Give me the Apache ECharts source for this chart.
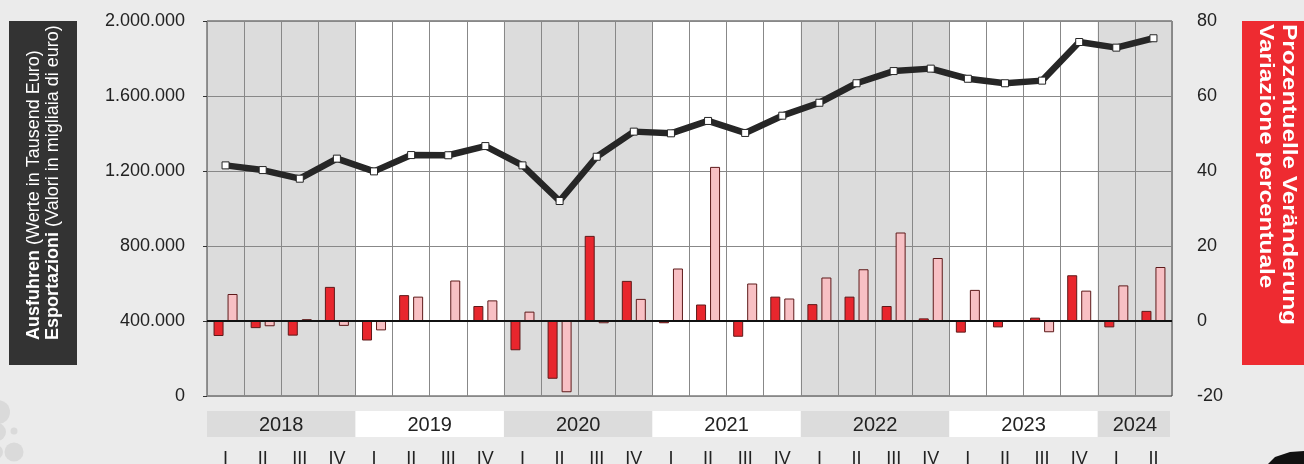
<!DOCTYPE html>
<html>
<head>
<meta charset="utf-8">
<script src="https://cdn.jsdelivr.net/npm/echarts@6/dist/echarts.min.js"></script>
<style>
  html, body { margin: 0; padding: 0; background: #ebebeb; }
  #chart { width: 1304px; height: 464px; }
</style>
</head>
<body>
<div id="chart"></div>
<script>
// quarters shown on the x axis
var quarters = [
  '2018 I', '2018 II', '2018 III', '2018 IV',
  '2019 I', '2019 II', '2019 III', '2019 IV',
  '2020 I', '2020 II', '2020 III', '2020 IV',
  '2021 I', '2021 II', '2021 III', '2021 IV',
  '2022 I', '2022 II', '2022 III', '2022 IV',
  '2023 I', '2023 II', '2023 III', '2023 IV',
  '2024 I', '2024 II'
];
var years = ['2018', '2019', '2020', '2021', '2022', '2023', '2024'];
var quartersPerYear = [4, 4, 4, 4, 4, 4, 2];

// exports, thousand euro
var exportsValues = [
  1230000, 1205000, 1159000, 1266000,
  1198000, 1285000, 1284000, 1333000,
  1230000, 1040000, 1276000, 1410000,
  1401000, 1467000, 1403000, 1495000,
  1564000, 1668000, 1733000, 1746000,
  1692000, 1668000, 1682000, 1888000,
  1858000, 1908000
];
// % change on previous quarter (red)
var changePrevQuarter = [
  -4.0, -1.9, -3.9, 9.1,
  -5.2, 6.9, 0, 4.0,
  -7.8, -15.4, 22.7, 10.7,
  -0.6, 4.4, -4.2, 6.5,
  4.5, 6.5, 4.0, 0.7,
  -3.1, -1.7, 0.9, 12.2,
  -1.7, 2.7
];
// % change on same quarter of previous year (pink)
var changePrevYear = [
  7.2, -1.4, 0.5, -1.3,
  -2.5, 6.5, 10.8, 5.5,
  2.5, -19.0, -0.6, 5.9,
  14.0, 41.1, 10.0, 6.0,
  11.6, 13.8, 23.6, 16.8,
  8.3, 0, -3.0, 8.1,
  9.5, 14.4
];

var FONT = 'Liberation Sans, Arial, sans-serif';

var yearBands = [];
var start = 0;
for (var i = 0; i < years.length; i++) {
  yearBands.push([start, start + quartersPerYear[i]]);
  start += quartersPerYear[i];
}

function thousands(v) {
  return String(v).replace(/\B(?=(\d{3})+(?!\d))/g, '.');
}

function bandColor(idx) {
  return idx % 2 ? '#ffffff' : '#dcdcdc';
}

var chart = echarts.init(document.getElementById('chart'));

var option = {
  backgroundColor: '#ebebeb',
  animation: false,
  grid: [
    { left: 207, right: 132, top: 21, bottom: 68, show: true, outerBoundsMode: 'none',
      borderColor: '#3a3a3a', borderWidth: 1, backgroundColor: 'transparent' },
    { left: 207, right: 132, top: 411, height: 26, outerBoundsMode: 'none' }
  ],
  xAxis: [
    {
      type: 'category',
      gridIndex: 0,
      data: quarters,
      boundaryGap: true,
      axisLine: { show: false },
      axisTick: { show: false },
      axisLabel: {
        interval: 0,
        margin: 54,
        fontSize: 18,
        fontFamily: FONT,
        color: '#222',
        formatter: function (v) { return v.split(' ')[1]; }
      },
      splitLine: { show: true, interval: 0, lineStyle: { color: '#888888', width: 1 } }
    },
    {
      type: 'value',
      gridIndex: 1,
      min: 0,
      max: quarters.length,
      show: false
    },
    {
      type: 'value',
      gridIndex: 0,
      min: 0,
      max: quarters.length,
      show: false
    }
  ],
  yAxis: [
    {
      type: 'value',
      gridIndex: 0,
      min: 0,
      max: 2000000,
      interval: 400000,
      axisLine: { show: false },
      axisTick: { show: true, length: 4, lineStyle: { color: '#333' } },
      axisLabel: {
        margin: 22,
        fontSize: 18,
        fontFamily: FONT,
        color: '#222',
        formatter: thousands
      },
      splitLine: { show: true, lineStyle: { color: '#888888', width: 1 } }
    },
    {
      type: 'value',
      gridIndex: 0,
      min: -20,
      max: 80,
      interval: 20,
      position: 'right',
      axisLine: { show: false },
      axisTick: { show: false },
      axisLabel: {
        margin: 25,
        fontSize: 18,
        fontFamily: FONT,
        color: '#222'
      },
      splitLine: { show: false }
    },
    {
      type: 'value',
      gridIndex: 1,
      min: 0,
      max: 1,
      show: false
    }
  ],
  series: [
    {
      // year background bands inside the plot
      type: 'custom',
      xAxisIndex: 2,
      yAxisIndex: 0,
      data: yearBands,
      silent: true,
      z: -1,
      renderItem: function (params, api) {
        var p0 = api.coord([api.value(0), 0]);
        var p1 = api.coord([api.value(1), 2000000]);
        return {
          type: 'rect',
          shape: { x: p0[0], y: p1[1], width: p1[0] - p0[0], height: p0[1] - p1[1] },
          style: { fill: bandColor(params.dataIndex) }
        };
      }
    },
    {
      name: 'Veränderung Vorquartal',
      type: 'bar',
      xAxisIndex: 0,
      yAxisIndex: 1,
      data: changePrevQuarter,
      barWidth: 10,
      barGap: '40%',
      itemStyle: { color: '#e8262d', borderColor: '#5e1a1a', borderWidth: 1 },
      markLine: {
        silent: true,
        symbol: 'none',
        label: { show: false },
        lineStyle: { color: '#111', width: 2, type: 'solid' },
        data: [{ yAxis: 0 }]
      },
      z: 3
    },
    {
      name: 'Veränderung Vorjahr',
      type: 'bar',
      xAxisIndex: 0,
      yAxisIndex: 1,
      data: changePrevYear,
      barWidth: 10,
      barGap: '40%',
      itemStyle: { color: '#f8c0c4', borderColor: '#5e1a1a', borderWidth: 1 },
      z: 3
    },
    {
      name: 'Ausfuhren',
      type: 'line',
      xAxisIndex: 0,
      yAxisIndex: 0,
      data: exportsValues,
      symbol: 'rect',
      symbolSize: 7,
      lineStyle: { color: '#262626', width: 6.5 },
      itemStyle: { color: '#ffffff', borderColor: '#262626', borderWidth: 1 },
      z: 5
    },
    {
      // year label row under the plot
      type: 'custom',
      xAxisIndex: 1,
      yAxisIndex: 2,
      data: yearBands,
      silent: true,
      renderItem: function (params, api) {
        var p0 = api.coord([api.value(0), 0]);
        var p1 = api.coord([api.value(1), 1]);
        var idx = params.dataIndex;
        return {
          type: 'group',
          children: [
            {
              type: 'rect',
              shape: { x: p0[0], y: p1[1], width: p1[0] - p0[0] - (idx === years.length - 1 ? 2 : 0), height: p0[1] - p1[1] },
              style: { fill: bandColor(idx) }
            },
            {
              type: 'text',
              style: {
                text: years[idx],
                x: (p0[0] + p1[0]) / 2,
                y: (p0[1] + p1[1]) / 2 + 1,
                align: 'center',
                verticalAlign: 'middle',
                fontSize: 20,
                fontFamily: FONT,
                fill: '#222'
              }
            }
          ]
        };
      }
    }
  ],
  graphic: [
    { type: 'rect', shape: { x: 9, y: 21, width: 68, height: 344 }, style: { fill: '#333333' } },
    {
      type: 'text', x: 34, y: 340, rotation: Math.PI / 2,
      style: {
        text: '{b|Ausfuhren} (Werte in Tausend Euro)',
        fontSize: 18, fontFamily: FONT, fill: '#fff',
        align: 'left', verticalAlign: 'middle',
        rich: { b: { fontWeight: 'bold', fontSize: 18, fontFamily: FONT, fill: '#fff' } }
      }
    },
    {
      type: 'text', x: 53, y: 340, rotation: Math.PI / 2,
      style: {
        text: '{b|Esportazioni} (Valori in migliaia di euro)',
        fontSize: 18, fontFamily: FONT, fill: '#fff',
        align: 'left', verticalAlign: 'middle',
        rich: { b: { fontWeight: 'bold', fontSize: 18, fontFamily: FONT, fill: '#fff' } }
      }
    },
    { type: 'rect', shape: { x: 1242, y: 21, width: 70, height: 344 }, style: { fill: '#ee2b31' } },
    {
      type: 'text', x: 1289, y: 24, rotation: -Math.PI / 2, scaleX: 1.22,
      style: {
        text: 'Prozentuelle Veränderung',
        fontSize: 20, fontWeight: 'bold', fontFamily: FONT, fill: '#fff',
        align: 'left', verticalAlign: 'middle'
      }
    },
    {
      type: 'text', x: 1266, y: 24, rotation: -Math.PI / 2, scaleX: 1.22,
      style: {
        text: 'Variazione percentuale',
        fontSize: 20, fontWeight: 'bold', fontFamily: FONT, fill: '#fff',
        align: 'left', verticalAlign: 'middle'
      }
    },
    // decorative circles bottom left
    { type: 'circle', shape: { cx: -2, cy: 412, r: 12 }, style: { fill: '#dadada' } },
    { type: 'circle', shape: { cx: -3, cy: 432, r: 9 }, style: { fill: '#dadada' } },
    { type: 'circle', shape: { cx: 14, cy: 431, r: 3.5 }, style: { fill: '#dadada' } },
    { type: 'circle', shape: { cx: 14, cy: 452, r: 9.5 }, style: { fill: '#dadada' } },
    { type: 'circle', shape: { cx: -4, cy: 452, r: 7 }, style: { fill: '#dadada' } },
    // logo corner bottom right
    { type: 'polygon', shape: { points: [[1268, 464], [1275, 457], [1290, 452], [1304, 451], [1304, 464]] }, style: { fill: '#111' } }
  ]
};

chart.setOption(option);
</script>
</body>
</html>
